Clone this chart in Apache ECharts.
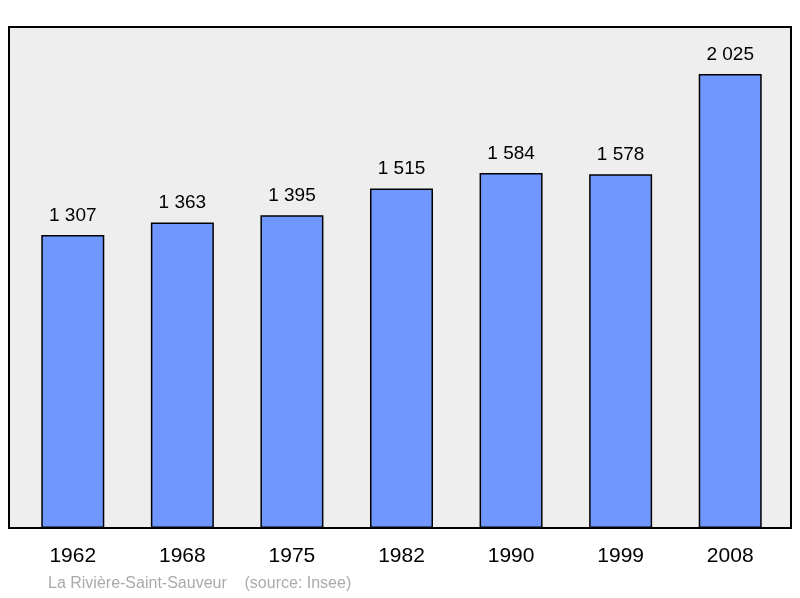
<!DOCTYPE html>
<html><head><meta charset="utf-8">
<script src="https://cdn.jsdelivr.net/npm/echarts@6/dist/echarts.min.js"></script>
<style>html,body{margin:0;padding:0;background:#fff}#c{width:800px;height:598px}</style>
</head><body><div id="c"></div>
<script>
const categories = ['1962','1968','1975','1982','1990','1999','2008'];
const values = [1307,1363,1395,1515,1584,1578,2025];
const chart = echarts.init(document.getElementById('c'));
chart.setOption({
  animation:false,
  grid:[{left:9,right:9,top:27,bottom:70,show:true,backgroundColor:'#eeeeee',borderColor:'#000',borderWidth:2,z:0},
        {left:18,right:15,top:27,bottom:70,show:false}],
  graphic:[{type:'text',left:48,top:576,style:{text:'La Rivière-Saint-Sauveur    (source: Insee)',fill:'#aaaaaa',font:'16px "Liberation Sans", Arial'}}],
  xAxis:[{gridIndex:0,type:'value',show:false},
    {gridIndex:1,type:'category',data:categories,axisLine:{show:false},axisTick:{show:false},
    axisLabel:{color:'#000',fontSize:21,fontFamily:'Liberation Sans',margin:18}}],
  yAxis:[{gridIndex:0,type:'value',show:false},
    {gridIndex:1,type:'value',min:0,max:2235,show:false,splitLine:{show:false}}],
  series:[{type:'bar',xAxisIndex:1,yAxisIndex:1,data:values,barWidth:63,
    itemStyle:{color:'#7097ff',borderColor:'#000',borderWidth:1.5},
    label:{show:true,position:'top',distance:10,color:'#000',fontSize:19,fontFamily:'Liberation Sans',
      formatter:p=>String(p.value).replace(/\B(?=(\d{3})+(?!\d))/g,' ')}}]
});
</script></body></html>
